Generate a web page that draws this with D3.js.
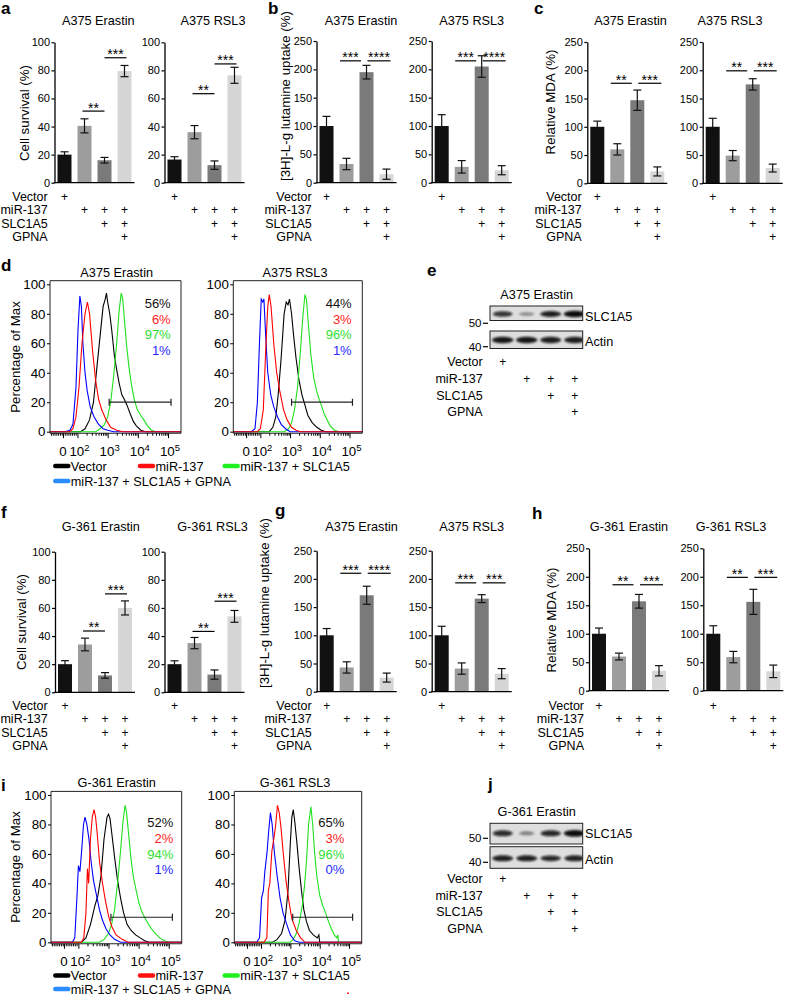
<!DOCTYPE html>
<html><head><meta charset="utf-8">
<script src="https://cdn.jsdelivr.net/npm/d3@7"></script>
<style>body{margin:0;background:#fff}</style>
</head><body><svg id="fig" width="785" height="997"></svg>
<script>
const FONT = "'Liberation Sans', Arial, Helvetica, sans-serif";
// ---------------- DATA ----------------
const groups = ["Vector","miR-137","miR-137 + SLC1A5","miR-137 + SLC1A5 + GPNA"];
const treatRows = ["Vector","miR-137","SLC1A5","GPNA"];
const treatPlus = [[1,0,0,0],[0,1,1,1],[0,0,1,1],[0,0,0,1]];
const survivalTicks = [0,20,40,60,80,100];
const pctTicks = [0,50,100,150,200,250];

// bar panels: mean, sem, significance [from,to,label,level]
const aErastinMean=[20,40.5,16,79.5], aErastinErr=[2,5,2,4];
const aErastinSig=[[1,2,"**",51],[2,3,"***",89]];
const aRsl3Mean=[16.5,36,12.5,76.5], aRsl3Err=[2,4.7,3,5.7];
const aRsl3Sig=[[1,2,"**",63.4],[2,3,"***",84.6]];
const bErastinMean=[100,33,195,15], bErastinErr=[17,10,12,9];
const bErastinSig=[[1,2,"***",215],[2,3,"****",215]];
const bRsl3Mean=[100,28,205,22], bRsl3Err=[20,11,19,8];
const bRsl3Sig=[[1,2,"***",215],[2,3,"****",215]];
const cErastinMean=[100,60,147,21], cErastinErr=[10,10,18,8];
const cErastinSig=[[1,2,"**",177],[2,3,"***",177]];
const cRsl3Mean=[100,49,175,27], cRsl3Err=[15,9,10,7];
const cRsl3Sig=[[1,2,"**",199],[2,3,"***",199]];
const fErastinMean=[20,34,12,60], fErastinErr=[2.5,4.5,2,5];
const fErastinSig=[[1,2,"**",43.6],[2,3,"***",70]];
const fRsl3Mean=[20,35,12.6,54], fRsl3Err=[2.4,4,3.3,4.2];
const fRsl3Sig=[[1,2,"**",43.3],[2,3,"***",64.8]];
const gErastinMean=[100,43,171,25], gErastinErr=[12,10,16,8];
const gErastinSig=[[1,2,"***",210],[2,3,"****",210]];
const gRsl3Mean=[100,41,165,32], gRsl3Err=[16,10,7,9];
const gRsl3Sig=[[1,2,"***",193],[2,3,"***",193]];
const hErastinMean=[100,60,157,35], hErastinErr=[10,6,12,9];
const hErastinSig=[[1,2,"**",186],[2,3,"***",186]];
const hRsl3Mean=[100,59,156,34], hRsl3Err=[14,10,22,11];
const hRsl3Sig=[[1,2,"**",199],[2,3,"***",199]];

// flow histograms: [log10 intensity, % of max]
const dErastinVector=[[2.1,0],[2.25,2],[2.4,8],[2.53,20],[2.65,45],[2.75,65],[2.85,85],[2.92,90],[2.96,94],[3.0,88],[3.07,80],[3.14,68],[3.22,52],[3.3,42],[3.38,33],[3.47,25],[3.55,22],[3.64,18],[3.75,12],[3.85,7],[3.95,4],[4.1,1],[4.25,0]];
const dErastinMir=[[1.75,0],[1.85,2],[1.95,10],[2.05,30],[2.15,60],[2.25,80],[2.33,88],[2.4,80],[2.5,55],[2.6,35],[2.7,22],[2.8,15],[2.95,8],[3.1,3],[3.3,1],[3.5,0]];
const dErastinSlc=[[2.6,0],[2.75,2],[2.9,5],[3.0,10],[3.1,20],[3.2,38],[3.3,60],[3.38,82],[3.45,94],[3.5,90],[3.56,75],[3.63,58],[3.7,45],[3.78,33],[3.88,22],[3.98,15],[4.1,11],[4.2,8],[4.32,4],[4.45,1],[4.6,0]];
const dErastinGpna=[[1.6,0],[1.75,1],[1.85,5],[1.95,30],[2.02,70],[2.08,92],[2.13,85],[2.18,60],[2.25,40],[2.32,28],[2.42,17],[2.55,10],[2.7,5],[2.85,2],[3.0,1],[3.2,0]];
const dRsl3Vector=[[2.3,0],[2.42,3],[2.52,10],[2.6,25],[2.7,50],[2.8,80],[2.87,88],[2.93,86],[2.98,90],[3.05,80],[3.12,65],[3.2,50],[3.3,35],[3.4,25],[3.5,18],[3.6,11],[3.75,6],[3.9,3],[4.05,1],[4.2,0]];
const dRsl3Mir=[[1.9,0],[2.0,2],[2.1,15],[2.18,55],[2.25,85],[2.3,93],[2.36,85],[2.45,60],[2.55,40],[2.65,28],[2.78,15],[2.9,8],[3.05,3],[3.2,1],[3.35,0]];
const dRsl3Slc=[[2.8,0],[2.95,2],[3.05,6],[3.15,15],[3.25,30],[3.35,55],[3.43,78],[3.5,93],[3.55,90],[3.62,72],[3.7,52],[3.8,36],[3.9,27],[3.98,22],[4.05,18],[4.15,12],[4.25,8],[4.35,4],[4.5,1],[4.65,0]];
const dRsl3Gpna=[[1.7,0],[1.82,2],[1.9,20],[1.97,60],[2.03,90],[2.08,88],[2.12,90],[2.18,65],[2.25,40],[2.35,25],[2.45,17],[2.58,10],[2.7,5],[2.85,2],[3.0,0]];
const iErastinVector=[[2.1,0],[2.25,3],[2.4,12],[2.55,25],[2.65,32],[2.75,45],[2.85,70],[2.95,85],[3.0,87],[3.05,84],[3.12,72],[3.2,58],[3.3,42],[3.4,30],[3.5,20],[3.62,12],[3.75,8],[3.9,5],[4.05,3],[4.2,1],[4.35,0]];
const iErastinMir=[[2.1,0],[2.18,3],[2.25,20],[2.3,50],[2.34,40],[2.4,70],[2.46,85],[2.52,90],[2.57,85],[2.62,75],[2.7,55],[2.8,40],[2.9,28],[3.0,18],[3.1,11],[3.25,5],[3.45,2],[3.65,0]];
const iErastinSlc=[[2.7,0],[2.85,2],[3.0,6],[3.1,12],[3.2,22],[3.3,40],[3.4,62],[3.48,82],[3.55,93],[3.6,88],[3.66,75],[3.74,58],[3.82,45],[3.92,35],[4.02,26],[4.12,20],[4.25,15],[4.4,10],[4.55,6],[4.7,3],[4.85,1],[5.0,0]];
const iErastinGpna=[[1.8,0],[1.88,3],[1.95,30],[2.0,52],[2.05,48],[2.1,60],[2.17,80],[2.22,85],[2.28,80],[2.35,70],[2.42,55],[2.5,42],[2.6,32],[2.7,22],[2.8,15],[2.92,9],[3.05,5],[3.2,2],[3.4,0]];
const iRsl3Vector=[[2.4,0],[2.55,2],[2.7,6],[2.82,15],[2.92,35],[3.0,68],[3.05,85],[3.1,90],[3.15,82],[3.22,68],[3.3,50],[3.38,35],[3.46,22],[3.55,14],[3.65,8],[3.78,5],[3.92,3],[3.97,5],[4.0,0]];
const iRsl3Mir=[[2.1,0],[2.2,3],[2.25,35],[2.3,40],[2.37,62],[2.45,72],[2.5,80],[2.56,93],[2.62,88],[2.68,78],[2.75,62],[2.85,42],[2.95,28],[3.05,16],[3.2,8],[3.35,3],[3.5,0]];
const iRsl3Slc=[[3.0,0],[3.1,2],[3.2,6],[3.3,13],[3.4,24],[3.48,38],[3.55,55],[3.62,80],[3.7,92],[3.76,80],[3.83,60],[3.9,45],[4.0,32],[4.1,25],[4.2,20],[4.3,14],[4.4,9],[4.5,5],[4.58,3],[4.62,5],[4.64,0]];
const iRsl3Gpna=[[1.85,0],[1.95,3],[2.02,30],[2.08,35],[2.13,48],[2.2,60],[2.26,75],[2.32,88],[2.38,80],[2.45,62],[2.55,45],[2.65,30],[2.75,20],[2.88,12],[3.0,5],[3.15,1],[3.3,0]];
const dErastinPct=["56%","6%","97%","1%"], dRsl3Pct=["44%","3%","96%","1%"];
const iErastinPct=["52%","2%","94%","1%"], iRsl3Pct=["65%","3%","96%","0%"];
const flowTickVals=[1.52,2,3,4,5], flowTickExp=["","2","3","4","5"];
const gateD=[3.05,5.1,20], gateI=[3.08,5.12,17];

// western blots: relative band intensity per lane
const eSlc1a5=[0.78,0.3,0.9,1.0], eActin=[0.95,0.95,0.9,0.9];
const jSlc1a5=[0.82,0.35,0.85,1.0], jActin=[0.9,0.9,0.85,0.88];

// ---------------- STYLE ----------------
const barColors=["#111111","#9d9d9d","#7a7a7a","#d6d6d6"];
const curveColors=["#000000","#ff0000","#1fe01f","#0000ff"];
const legendColors=["#000000","#ff1010","#20f020","#2a8cff"];
const pctColors=["#111111","#ff2020","#30e030","#2828ff"];

const svg=d3.select('#fig');
const defs=svg.append('defs');
defs.append('filter').attr('id','blur').attr('x','-50%').attr('y','-100%').attr('width','200%').attr('height','300%')
  .append('feGaussianBlur').attr('stdDeviation',1.1);

function txt(g,x,y,s,size,anchor,fill){
  return g.append('text').attr('x',x).attr('y',y).attr('font-size',size).attr('font-family',FONT)
    .attr('text-anchor',anchor||'start').attr('fill',fill||'#000').text(s);
}
function vlabel(g,x,y,s,size){
  return g.append('text').attr('transform',`translate(${x},${y}) rotate(-90)`).attr('dy','0.35em')
    .attr('font-size',size).attr('font-family',FONT).attr('text-anchor','middle').text(s);
}
function panelLetter(s,x,y){
  txt(svg,x,y,s,17,'start').attr('font-weight','bold');
}

function barChart(c){
  const g=svg.append('g');
  const x=d3.scaleBand().domain(d3.range(4)).range([c.ax,c.ax+80]).paddingInner(0.3).paddingOuter(0.15);
  const y=d3.scaleLinear().domain([0,c.max]).range([c.y0,c.yt]);
  const bw=x.bandwidth(), cx=i=>x(i)+bw/2;
  g.selectAll('rect.bar').data(c.mean).join('rect').attr('class','bar')
    .attr('x',(d,i)=>x(i)).attr('y',d=>y(d)).attr('width',bw).attr('height',d=>c.y0-y(d))
    .attr('fill',(d,i)=>barColors[i]);
  const eb=g.append('g').attr('stroke','#111').attr('stroke-width',1.2);
  c.mean.forEach((m,i)=>{
    const e=c.err[i];
    eb.append('line').attr('x1',cx(i)).attr('x2',cx(i)).attr('y1',y(m-e)).attr('y2',y(m+e));
    [m-e,m+e].forEach(v=>eb.append('line').attr('x1',cx(i)-4).attr('x2',cx(i)+4).attr('y1',y(v)).attr('y2',y(v)));
  });
  const axis=g.append('g').attr('transform',`translate(${c.ax},0)`)
    .call(d3.axisLeft(y).tickValues(c.ticks).tickSize(3).tickSizeOuter(0).tickPadding(1.5));
  axis.select('.domain').attr('stroke-width',1.3);
  axis.selectAll('.tick line').attr('stroke-width',1.2);
  axis.selectAll('text').attr('font-size',11).attr('font-family',FONT).attr('fill','#000');
  g.append('line').attr('x1',c.ax-0.6).attr('x2',c.ax+80).attr('y1',c.y0).attr('y2',c.y0)
    .attr('stroke','#000').attr('stroke-width',1.3);
  const same=c.sig[0][3]===c.sig[1][3];
  c.sig.forEach(([a,b,lab,v])=>{
    let x1,x2;
    if(same){ if(a===1){x1=cx(1)-6.5;x2=cx(2)-5.5;} else {x1=cx(2)+1;x2=cx(3)+4;} }
    else { if(a===1){x1=cx(1)-2;x2=cx(2);} else {x1=cx(2);x2=cx(3)+2;} }
    g.append('line').attr('x1',x1).attr('x2',x2).attr('y1',y(v)).attr('y2',y(v)).attr('stroke','#000').attr('stroke-width',1.2);
    txt(g,(x1+x2)/2,y(v)+1.5,lab,14,'middle');
  });
  txt(g,c.tx,c.tb,c.title,12.7,'middle');
  if(c.ylab) vlabel(g,c.ylx,c.yly,c.ylab,13.3);
  treatRows.forEach((r,ri)=>{
    if(c.rowX) txt(g,c.rowX,c.rows[ri],r,12.5,'end');
    treatPlus[ri].forEach((p,i)=>{ if(p) txt(g,cx(i),c.rows[ri],"+",12,'middle'); });
  });
}

const rowTop=[200.5,214,227.5,241], rowBot=[709.5,723,736.5,750];
[
 {mean:aErastinMean,err:aErastinErr,sig:aErastinSig,ticks:survivalTicks,max:100,ax:54.5,y0:182.7,yt:42.3,title:"A375 Erastin",tx:98.3,tb:25,ylab:"Cell survival (%)",ylx:24,yly:113,rowX:47.7,rows:rowTop},
 {mean:aRsl3Mean,err:aRsl3Err,sig:aRsl3Sig,ticks:survivalTicks,max:100,ax:164.5,y0:182.7,yt:42.3,title:"A375 RSL3",tx:213,tb:25,rows:rowTop},
 {mean:bErastinMean,err:bErastinErr,sig:bErastinSig,ticks:pctTicks,max:250,ax:316.5,y0:182.7,yt:41,title:"A375 Erastin",tx:361,tb:25,ylab:"[3H]-L-g lutamine uptake (%)",ylx:285,yly:96,rowX:311.7,rows:rowTop},
 {mean:bRsl3Mean,err:bRsl3Err,sig:bRsl3Sig,ticks:pctTicks,max:250,ax:431.7,y0:182.7,yt:41,title:"A375 RSL3",tx:471.7,tb:25,rows:rowTop},
 {mean:cErastinMean,err:cErastinErr,sig:cErastinSig,ticks:pctTicks,max:250,ax:587.3,y0:183.3,yt:42,title:"A375 Erastin",tx:630.5,tb:25,ylab:"Relative MDA (%)",ylx:550,yly:102,rowX:581.7,rows:rowTop},
 {mean:cRsl3Mean,err:cRsl3Err,sig:cRsl3Sig,ticks:pctTicks,max:250,ax:702.7,y0:183.3,yt:42,title:"A375 RSL3",tx:730,tb:25,rows:rowTop},
 {mean:fErastinMean,err:fErastinErr,sig:fErastinSig,ticks:survivalTicks,max:100,ax:55,y0:692.3,yt:551.7,title:"G-361 Erastin",tx:100.8,tb:531,ylab:"Cell survival (%)",ylx:21,yly:622,rowX:47.7,rows:rowBot},
 {mean:fRsl3Mean,err:fRsl3Err,sig:fRsl3Sig,ticks:survivalTicks,max:100,ax:164.5,y0:692.3,yt:551.7,title:"G-361 RSL3",tx:212.5,tb:531,rows:rowBot},
 {mean:gErastinMean,err:gErastinErr,sig:gErastinSig,ticks:pctTicks,max:250,ax:316.7,y0:691.7,yt:550.7,title:"A375 Erastin",tx:361.5,tb:531,ylab:"[3H]-L-g lutamine uptake (%)",ylx:264,yly:603,rowX:311.7,rows:rowBot},
 {mean:gRsl3Mean,err:gRsl3Err,sig:gRsl3Sig,ticks:pctTicks,max:250,ax:431.7,y0:691.7,yt:550.7,title:"A375 RSL3",tx:471.7,tb:531,rows:rowBot},
 {mean:hErastinMean,err:hErastinErr,sig:hErastinSig,ticks:pctTicks,max:250,ax:589,y0:690.7,yt:548.3,title:"G-361 Erastin",tx:629,tb:531,ylab:"Relative MDA (%)",ylx:551,yly:620,rowX:584,rows:rowBot},
 {mean:hRsl3Mean,err:hRsl3Err,sig:hRsl3Sig,ticks:pctTicks,max:250,ax:703.3,y0:690.7,yt:548.3,title:"G-361 RSL3",tx:731,tb:531,rows:rowBot}
].forEach(barChart);

// ---------------- FLOW HISTOGRAMS ----------------
const logDomain=[1.09,5.43];
function histo(c){
  const g=svg.append('g');
  const w=c.w||130;
  const x=d3.scaleLinear().domain(logDomain).range([c.x0,c.x0+w]);
  const y=d3.scaleLinear().domain([0,100]).range([c.y0,c.y100]);
  const top=c.y100-3.6, bot=c.y0+1.5;
  const line=d3.line().x(d=>x(d[0])).y(d=>y(d[1]));
  [0,2,3,1].forEach(i=>{
    const data=[[logDomain[0],0],...c.curves[i],[logDomain[1],0]];
    g.append('path').datum(data).attr('d',line).attr('fill','none').attr('stroke',curveColors[i]).attr('stroke-width',1.1);
  });
  g.append('path').attr('d',`M${c.x0},${bot}V${top}H${c.x0+w}V${bot}`).attr('fill','none').attr('stroke','#222').attr('stroke-width',1);
  g.append('line').attr('x1',c.x0).attr('x2',c.x0+w).attr('y1',bot).attr('y2',bot).attr('stroke','#222').attr('stroke-width',1.1);
  const ya=g.append('g').attr('transform',`translate(${c.x0},0)`)
    .call(d3.axisLeft(y).tickValues([0,20,40,60,80,100]).tickSize(3).tickSizeOuter(0).tickPadding(1.5));
  ya.select('.domain').remove();
  ya.selectAll('text').attr('font-size',13.3).attr('font-family',FONT).attr('fill','#000');
  const minor=[];
  [1.12,1.18,1.24,1.3,1.36,1.42,1.48,1.58,1.64,1.7,1.76,1.82,1.88,1.94].forEach(v=>minor.push(v));
  [2,3,4].forEach(k=>d3.range(2,10).forEach(m=>minor.push(k+Math.log10(m))));
  const xa=g.append('g').attr('transform',`translate(0,${bot})`);
  xa.call(d3.axisBottom(x).tickValues(minor).tickSize(2.5).tickFormat(''));
  xa.select('.domain').remove();
  const xb=g.append('g').attr('transform',`translate(0,${bot})`);
  xb.call(d3.axisBottom(x).tickValues(flowTickVals).tickSize(5).tickFormat(''));
  xb.select('.domain').remove();
  flowTickVals.forEach((v,i)=>{
    if(i===0){ txt(g,x(v),c.xlb,"0",13.3,'middle'); }
    else{
      const t=txt(g,x(v)+2,c.xlb,"10",13.3,'middle');
      t.append('tspan').attr('dy',-5.5).attr('font-size',9.5).text(flowTickExp[i]);
    }
  });
  const gy=y(c.gate[2]);
  g.append('path').attr('d',`M${x(c.gate[0])},${gy-3.5}V${gy+3.5}M${x(c.gate[0])},${gy}H${x(c.gate[1])}M${x(c.gate[1])},${gy-3.5}V${gy+3.5}`)
    .attr('stroke','#222').attr('stroke-width',1.2).attr('fill','none');
  c.pct.forEach((p,i)=>txt(g,c.pctX,c.pctY[i],p,13,'end',pctColors[i]));
  txt(g,c.tx,c.tb,c.title,12.7,'middle');
  if(c.ylab) vlabel(g,c.ylx,c.yly,c.ylab,13.3);
}
histo({x0:50,w:131,y0:431.7,y100:284.3,curves:[dErastinVector,dErastinMir,dErastinSlc,dErastinGpna],pct:dErastinPct,pctX:170.7,pctY:[308,323.5,339,354.5],gate:gateD,title:"A375 Erastin",tx:116.7,tb:277,xlb:456,ylab:"Percentage of Max",ylx:15,yly:357});
histo({x0:233.3,w:129,y0:431.7,y100:284.3,curves:[dRsl3Vector,dRsl3Mir,dRsl3Slc,dRsl3Gpna],pct:dRsl3Pct,pctX:351.7,pctY:[308,323.5,339,354.5],gate:gateD,title:"A375 RSL3",tx:295,tb:277,xlb:456});
histo({x0:51,w:130.7,y0:942.3,y100:795,curves:[iErastinVector,iErastinMir,iErastinSlc,iErastinGpna],pct:iErastinPct,pctX:173.3,pctY:[827.3,843,858.5,874],gate:gateI,title:"G-361 Erastin",tx:116.7,tb:787,xlb:966,ylab:"Percentage of Max",ylx:15,yly:867});
histo({x0:234.3,w:127.4,y0:942.3,y100:795,curves:[iRsl3Vector,iRsl3Mir,iRsl3Slc,iRsl3Gpna],pct:iRsl3Pct,pctX:344.3,pctY:[827.3,843,858.5,874],gate:gateI,title:"G-361 RSL3",tx:295,tb:787,xlb:966});

function legend(yc,dy){
  const pos=[[53.3,yc],[138,yc],[222.7,yc],[53.3,yc+dy]];
  const g=svg.append('g');
  groups.forEach((s,i)=>{
    const [lx,ly]=pos[i];
    g.append('line').attr('x1',lx+2).attr('x2',lx+15).attr('y1',ly).attr('y2',ly).attr('stroke',legendColors[i]).attr('stroke-width',4.5).attr('stroke-linecap','round');
    txt(g,lx+17.5,ly+4.6,s,12.7,'start');
  });
}
legend(466,15); legend(975.5,13.5);
svg.append('rect').attr('x',347).attr('y',992.5).attr('width',2).attr('height',1.5).attr('fill','#ff2020');

// ---------------- WESTERN BLOTS ----------------
function blot(c){
  const g=svg.append('g');
  const lanes=d3.scalePoint().domain(d3.range(4)).range([502.7,574.7]);
  txt(g,536.7,c.tb,c.title,12.7,'middle');
  c.boxes.forEach(b=>{
    const clipId='clip'+Math.round(b.y);
    defs.append('clipPath').attr('id',clipId).append('rect').attr('x',490).attr('y',b.y).attr('width',92.7).attr('height',b.h);
    g.append('rect').attr('x',490).attr('y',b.y).attr('width',92.7).attr('height',b.h).attr('fill','#dedede');
    const bg=g.append('g').attr('clip-path',`url(#${clipId})`);
    bg.selectAll('ellipse').data(b.bands).join('ellipse')
      .attr('cx',(d,i)=>lanes(i)).attr('cy',b.by)
      .attr('rx',d=>6+5*d).attr('ry',d=>1.2+1.8*d*b.th)
      .attr('fill','#0a0a0a').attr('opacity',d=>Math.min(1,0.15+0.85*d)).attr('filter','url(#blur)');
    g.append('rect').attr('x',490).attr('y',b.y).attr('width',92.7).attr('height',b.h).attr('fill','none').attr('stroke','#222').attr('stroke-width',1);
    txt(g,585,b.lb,b.label,12.7,'start');
  });
  c.markers.forEach(([s,my])=>{
    txt(g,481.5,my+4,s,11.5,'end');
    g.append('line').attr('x1',483).attr('x2',488).attr('y1',my).attr('y2',my).attr('stroke','#000').attr('stroke-width',1.2);
  });
  treatRows.forEach((r,ri)=>{
    txt(g,482.7,c.rows[ri],r,12.5,'end');
    treatPlus[ri].forEach((p,i)=>{ if(p) txt(g,lanes(i),c.rows[ri],"+",12,'middle'); });
  });
}
blot({title:"A375 Erastin",tb:299,boxes:[
  {y:306,h:14.5,by:314,bands:eSlc1a5,th:1.1,label:"SLC1A5",lb:320.5},
  {y:331,h:17.5,by:340,bands:eActin,th:1.2,label:"Actin",lb:345.5}],
  markers:[["50",323.3],["40",346.7]],rows:[366,383,399.5,416]});
blot({title:"G-361 Erastin",tb:816,boxes:[
  {y:823.3,h:20.7,by:833.3,bands:jSlc1a5,th:1.2,label:"SLC1A5",lb:837.8},
  {y:846.7,h:21.6,by:858.3,bands:jActin,th:1.1,label:"Actin",lb:863.8}],
  markers:[["50",838.3],["40",862.3]],rows:[883,900,916,933]});

panelLetter("a",1,14); panelLetter("b",268,14); panelLetter("c",534,14);
panelLetter("d",1,271); panelLetter("e",427,276);
panelLetter("f",1,518); panelLetter("g",275,516); panelLetter("h",532,519);
panelLetter("i",1,791); panelLetter("j",488,790);
</script></body></html>
